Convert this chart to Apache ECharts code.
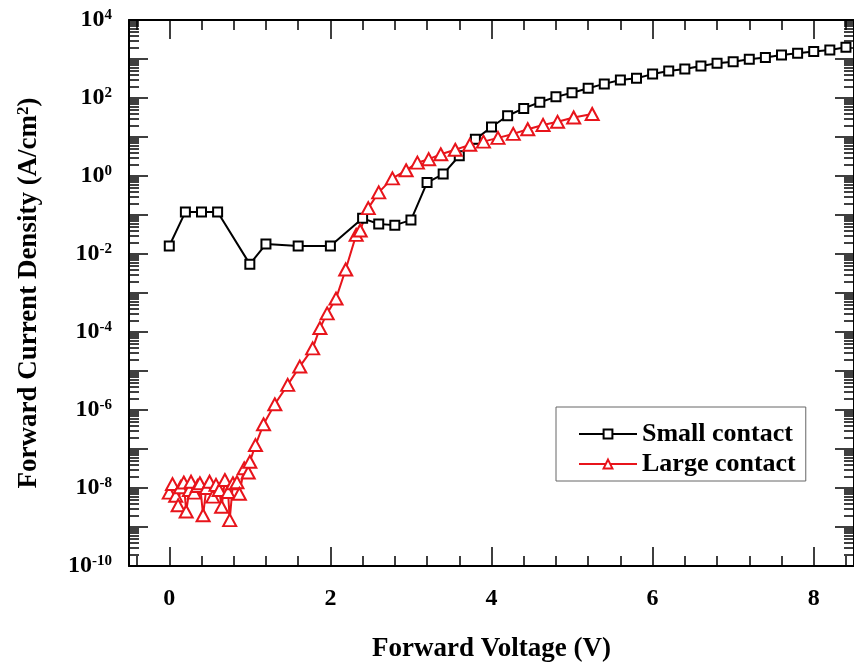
<!DOCTYPE html>
<html><head><meta charset="utf-8">
<script src="https://cdn.jsdelivr.net/npm/echarts@6/dist/echarts.min.js"></script>
<style>html,body{margin:0;padding:0;background:#fff}#c{width:854px;height:668px}</style>
</head><body><div id="c"></div>
<script>
// ---- data ----
const smallV = [0,0.2,0.4,0.6,1.0,1.2,1.6,2.0,2.4,2.6,2.8,3.0,3.2,3.4,3.6,3.8,4.0,4.2,4.4,4.6,4.8,5.0,5.2,5.4,5.6,5.8,6.0,6.2,6.4,6.6,6.8,7.0,7.2,7.4,7.6,7.8,8.0,8.2,8.4];
const smallJ = [1.6e-2,0.12,0.12,0.12,5.5e-3,1.8e-2,1.6e-2,1.6e-2,0.082,0.059,0.055,0.074,0.68,1.12,3.3,8.7,18,35,54,78,107,137,178,230,290,320,410,490,555,660,775,850,980,1100,1260,1400,1550,1700,2000];
const largeV = [0.00,0.04,0.08,0.11,0.14,0.18,0.21,0.25,0.27,0.31,0.35,0.38,0.42,0.46,0.50,0.54,0.58,0.62,0.65,0.69,0.73,0.75,0.79,0.84,0.87,0.93,0.98,1.00,1.07,1.17,1.31,1.47,1.62,1.78,1.87,1.96,2.07,2.19,2.32,2.37,2.47,2.60,2.77,2.94,3.08,3.22,3.37,3.55,3.73,3.90,4.08,4.27,4.45,4.64,4.82,5.02,5.25];
const largeJ = [7.6e-9,1.26e-8,6.3e-9,3.6e-9,1.05e-8,1.38e-8,2.5e-9,8.9e-9,1.45e-8,7.6e-9,1.12e-8,1.32e-8,2.0e-9,1.0e-8,1.45e-8,6.0e-9,1.2e-8,8.9e-9,3.3e-9,1.6e-8,7.9e-9,1.5e-9,1.32e-8,1.4e-8,7.1e-9,3.2e-8,2.5e-8,4.7e-8,1.26e-7,4.3e-7,1.4e-6,4.4e-6,1.3e-5,3.8e-5,1.26e-4,3.0e-4,7.2e-4,4.0e-3,0.031,0.04,0.15,0.38,0.87,1.4,2.2,2.7,3.6,4.7,6.3,7.6,9.5,12,15.8,20.4,24.5,31.6,39];
const xTickLabels = [0,2,4,6,8];
const yLabelExps = [-10,-8,-6,-4,-2,0,2,4];
const seriesNames = ['Small contact','Large contact'];

// ---- styling / helpers ----
const FONT = "'Liberation Serif','Times New Roman',serif";
const RED = '#e8141b';
const xMin = -0.5, xMax = 8.5, yMin = 1e-10, yMax = 1e4;
const minorX = [];
for (let k = -1; k <= 21; k++) { const v = Math.round(k * 4) / 10; if (v > xMin && v < xMax && Math.abs(v / 2 - Math.round(v / 2)) > 1e-9) minorX.push(v); }
const majorY = [];
for (let n = -10; n <= 4; n++) majorY.push(Number(Math.pow(10, n).toPrecision(3)));
const minorY = [];
for (let n = -10; n <= 3; n++) for (let k = 2; k <= 9; k++) minorY.push(Number((k * Math.pow(10, n)).toPrecision(3)));

const lineBlack = { color: '#000', width: 2 };
function xAxisDef(pos, ticks, len, main) {
  return {
    type: 'value', position: pos, min: xMin, max: xMax,
    axisLine: { show: main, onZero: false, lineStyle: lineBlack },
    axisTick: { show: true, inside: true, length: len, customValues: ticks, lineStyle: { color: '#000', width: 1.5 } },
    axisLabel: (main && pos === 'bottom') ? { show: true, customValues: xTickLabels, margin: 21, fontFamily: FONT, fontWeight: 'bold', fontSize: 24, color: '#000' } : { show: false },
    splitLine: { show: false }
  };
}
function yAxisDef(pos, ticks, len, main) {
  return {
    type: 'log', logBase: 10, position: pos, min: yMin, max: yMax,
    axisLine: { show: main, onZero: false, lineStyle: lineBlack },
    axisTick: { show: true, inside: true, length: len, customValues: ticks, lineStyle: { color: '#000', width: 1.5 } },
    axisLabel: (main && pos === 'left') ? {
      show: true, customValues: yLabelExps.map(e => Number(Math.pow(10, e).toPrecision(3))), margin: 17,
      formatter: v => { const e = Math.round(Math.log10(v)); return '{b|10}{s|' + e + '}'; },
      rich: {
        b: { fontFamily: FONT, fontWeight: 'bold', fontSize: 24, color: '#000', lineHeight: 24 },
        s: { fontFamily: FONT, fontWeight: 'bold', fontSize: 15, color: '#000', verticalAlign: 'top', lineHeight: 15 }
      }
    } : { show: false },
    splitLine: { show: false }
  };
}

const xAxes = [
  xAxisDef('bottom', xTickLabels, 19, true),
  xAxisDef('bottom', minorX, 10, false),
  xAxisDef('top', xTickLabels, 19, true),
  xAxisDef('top', minorX, 10, false)
];
Object.assign(xAxes[0], {
  name: 'Forward Voltage (V)', nameLocation: 'middle', nameGap: 70,
  nameTextStyle: { fontFamily: FONT, fontWeight: 'bold', fontSize: 27, color: '#000' }
});
const yAxes = [
  yAxisDef('left', majorY, 19, true),
  yAxisDef('left', minorY, 10, false),
  yAxisDef('right', majorY, 19, true),
  yAxisDef('right', minorY, 10, false)
];
Object.assign(yAxes[0], {
  name: '{a|Forward Current Density (A/cm}{s|2}{a|)}', nameLocation: 'middle', nameGap: 86, nameRotate: 90,
  nameTextStyle: {
    rich: {
      a: { fontFamily: FONT, fontWeight: 'bold', fontSize: 27, color: '#000', lineHeight: 28 },
      s: { fontFamily: FONT, fontWeight: 'bold', fontSize: 17, color: '#000', verticalAlign: 'top', lineHeight: 17 }
    }
  }
});

const chart = echarts.init(document.getElementById('c'), null, { renderer: 'canvas' });
chart.setOption({
  animation: false,
  backgroundColor: '#fff',
  grid: { left: 129, top: 20, width: 727, height: 546, containLabel: false },
  xAxis: xAxes,
  yAxis: yAxes,
  legend: {
    orient: 'vertical', left: 556, top: 407,
    padding: [13, 10, 3, 22], itemGap: 2, itemWidth: 58, itemHeight: 11,
    borderColor: '#666', borderWidth: 1,
    textStyle: { fontFamily: FONT, fontWeight: 'bold', fontSize: 26, color: '#000', lineHeight: 28 },
    data: seriesNames
  },
  series: [
    {
      name: seriesNames[0], type: 'line', xAxisIndex: 0, yAxisIndex: 0,
      data: smallV.map((v, i) => [v, smallJ[i]]),
      symbol: 'rect', symbolSize: 9,
      itemStyle: { color: '#fff', borderColor: '#000', borderWidth: 2 },
      lineStyle: { color: '#000', width: 2 }
    },
    {
      name: seriesNames[1], type: 'line', xAxisIndex: 0, yAxisIndex: 0,
      data: largeV.map((v, i) => [v, largeJ[i]]),
      symbol: 'triangle', symbolSize: [13, 12],
      itemStyle: { color: '#fff', borderColor: RED, borderWidth: 2 },
      lineStyle: { color: RED, width: 2 }
    }
  ]
});
</script>
</body></html>
